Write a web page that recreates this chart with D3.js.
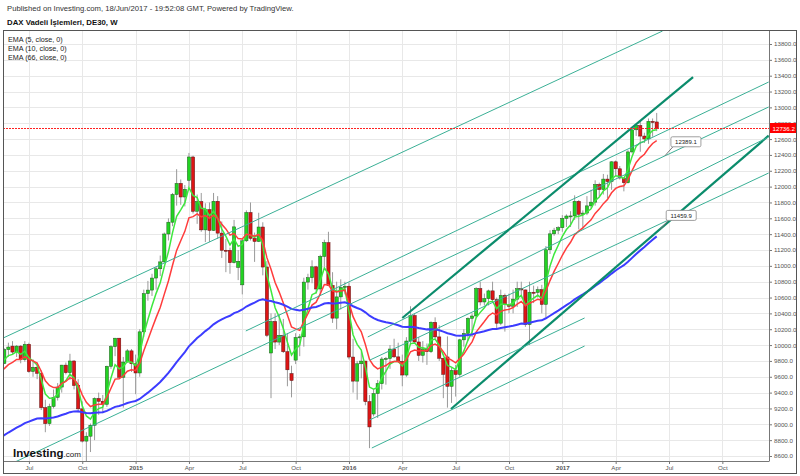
<!DOCTYPE html>
<html>
<head>
<meta charset="utf-8">
<script src="https://cdn.jsdelivr.net/npm/d3@7"></script>
<style>
  body { margin: 0; background: #fff; }
  svg { display: block; font-family: "Liberation Sans", Arial, sans-serif; }
</style>
</head>
<body>
<svg id="chart" width="800" height="476"></svg>
<script>
// weekly bars (monday of each week)
var weeks = [
  "2014-05-19","2014-05-26","2014-06-02","2014-06-09","2014-06-16","2014-06-23","2014-06-30","2014-07-07","2014-07-14","2014-07-21",
  "2014-07-28","2014-08-04","2014-08-11","2014-08-18","2014-08-25","2014-09-01","2014-09-08","2014-09-15","2014-09-22","2014-09-29",
  "2014-10-06","2014-10-13","2014-10-20","2014-10-27","2014-11-03","2014-11-10","2014-11-17","2014-11-24","2014-12-01","2014-12-08",
  "2014-12-15","2014-12-22","2014-12-29","2015-01-05","2015-01-12","2015-01-19","2015-01-26","2015-02-02","2015-02-09","2015-02-16",
  "2015-02-23","2015-03-02","2015-03-09","2015-03-16","2015-03-23","2015-03-30","2015-04-06","2015-04-13","2015-04-20","2015-04-27",
  "2015-05-04","2015-05-11","2015-05-18","2015-05-25","2015-06-01","2015-06-08","2015-06-15","2015-06-22","2015-06-29","2015-07-06",
  "2015-07-13","2015-07-20","2015-07-27","2015-08-03","2015-08-10","2015-08-17","2015-08-24","2015-08-31","2015-09-07","2015-09-14",
  "2015-09-21","2015-09-28","2015-10-05","2015-10-12","2015-10-19","2015-10-26","2015-11-02","2015-11-09","2015-11-16","2015-11-23",
  "2015-11-30","2015-12-07","2015-12-14","2015-12-21","2015-12-28","2016-01-04","2016-01-11","2016-01-18","2016-01-25","2016-02-01",
  "2016-02-08","2016-02-15","2016-02-22","2016-02-29","2016-03-07","2016-03-14","2016-03-21","2016-03-28","2016-04-04","2016-04-11",
  "2016-04-18","2016-04-25","2016-05-02","2016-05-09","2016-05-16","2016-05-23","2016-05-30","2016-06-06","2016-06-13","2016-06-20",
  "2016-06-27","2016-07-04","2016-07-11","2016-07-18","2016-07-25","2016-08-01","2016-08-08","2016-08-15","2016-08-22","2016-08-29",
  "2016-09-05","2016-09-12","2016-09-19","2016-09-26","2016-10-03","2016-10-10","2016-10-17","2016-10-24","2016-10-31","2016-11-07",
  "2016-11-14","2016-11-21","2016-11-28","2016-12-05","2016-12-12","2016-12-19","2016-12-26","2017-01-02","2017-01-09","2017-01-16",
  "2017-01-23","2017-01-30","2017-02-06","2017-02-13","2017-02-20","2017-02-27","2017-03-06","2017-03-13","2017-03-20","2017-03-27",
  "2017-04-03","2017-04-10","2017-04-17","2017-04-24","2017-05-01","2017-05-08","2017-05-15","2017-05-22","2017-05-29","2017-06-05",
  "2017-06-12"
];

var opens = [
  9630,9768,9943,9987,9912,9987,9815,10009,9666,9720,
  9644,9210,9009,9225,9339,9470,9747,9651,9799,9490,
  9195,8788,8850,8988,9326,9291,9252,9732,9980,10087,
  9594,9786,9927,9764,9648,10167,10649,10694,10846,10963,
  11050,11402,11551,11901,12040,11869,12080,12374,11689,11811,
  11454,11709,11447,11815,11413,11197,11196,11040,10980,10760,
  11316,11673,11347,11308,11490,10985,9900,10298,10038,10123,
  9916,9640,9810,10096,10104,10795,10850,10988,10708,11119,
  11293,10752,10340,10608,10727,10743,9849,9545,9764,9798,
  9286,9130,9388,9513,9824,9831,9950,9851,9794,9622,
  10051,10373,10039,9870,9952,9916,10287,10103,9834,9850,
  9480,9680,9629,10066,10147,10337,10367,10713,10544,10587,
  10684,10573,10276,10627,10511,10490,10580,10711,10696,10259,
  10667,10664,10699,10513,11203,11404,11450,11481,11599,11629,
  11630,11814,11651,11666,11757,11804,12027,11963,12095,12064,
  12313,12225,12109,12049,12438,12717,12770,12638,12602,12823,
  12816
];

var highs = [
  9790,9960,10030,10050,10000,10000,10050,10030,9820,9780,
  9680,9310,9260,9440,9520,9750,9780,9890,9810,9570,
  9290,8900,9010,9340,9400,9370,9740,10000,10090,10090,
  9850,9950,9950,9880,10200,10700,10810,10900,10990,11130,
  11420,11600,11920,12220,12090,12020,12425,12390,11900,11920,
  11790,11800,11920,11880,11560,11340,11230,11580,11200,11340,
  11700,11800,11420,11670,11550,11060,10400,10400,10390,10330,
  10150,9740,10150,10140,10850,10900,11070,11000,11140,11330,
  11430,10920,10800,10830,10800,10790,10080,9800,9920,9800,
  9370,9440,9560,9850,9850,10000,10080,10030,9880,10100,
  10490,10400,10100,10050,10020,10300,10350,10250,9840,10110,
  9720,9750,10080,10200,10350,10400,10730,10800,10650,10700,
  10800,10600,10700,10650,10650,10700,10800,10800,10700,10800,
  10750,10740,10760,11250,11450,11480,11500,11640,11650,11690,
  11890,11830,11700,11880,11960,12080,12050,12160,12150,12320,
  12330,12260,12110,12460,12720,12780,12840,12680,12860,12860,
  12930
];

var lows = [
  9590,9760,9850,9880,9850,9770,9790,9650,9600,9570,
  9180,8900,8980,9200,9300,9400,9630,9560,9440,9150,
  8770,8355,8650,8800,9120,9140,9220,9700,9860,9580,
  9210,9780,9660,9380,9600,10100,10560,10620,10700,10870,
  11040,11320,11500,11760,11770,11750,12000,11660,11530,11430,
  11300,11300,11440,11340,11100,10920,10900,11030,10820,10640,
  11300,11320,11050,11300,10880,10100,9330,9950,10000,9900,
  9480,9340,9760,9860,9980,10700,10780,10650,10630,10990,
  10750,10280,10200,10450,10640,9820,9400,9310,9580,9240,
  8699,9100,9080,9440,9500,9700,9840,9780,9480,9600,
  10000,10020,9800,9780,9750,9900,10080,9800,9330,9210,
  9270,9350,9600,9980,10050,10100,10350,10500,10500,10500,
  10550,10200,10250,10170,10400,10400,10480,10600,10230,10000,
  10530,10600,10400,10350,11150,11380,11400,11430,11490,11490,
  11580,11460,11460,11640,11730,11760,11880,11900,11850,11960,
  12140,12090,11940,12040,12420,12640,12440,12550,12540,12630,
  12700
];

var closes = [
  9768,9943,9975,9912,9987,9815,10009,9666,9720,9644,
  9210,9009,9225,9339,9470,9747,9651,9799,9490,9195,
  8788,8850,8988,9326,9291,9252,9732,9980,10087,9594,
  9786,9927,9764,9648,10167,10649,10694,10846,10963,11050,
  11402,11551,11901,12040,11869,11967,12374,11689,11811,11454,
  11709,11447,11815,11413,11197,11196,11040,11492,11058,11316,
  11673,11347,11308,11490,10985,10124,10298,10038,10123,9916,
  9688,9553,10096,10104,10795,10850,10988,10708,11119,11293,
  10752,10340,10608,10727,10743,9849,9545,9764,9798,9286,
  8967,9388,9513,9824,9831,9950,9851,9794,9622,10051,
  10373,10039,9870,9952,9916,10287,10103,9834,9631,9480,
  9680,9629,10066,10147,10337,10367,10713,10544,10587,10684,
  10573,10276,10627,10511,10490,10580,10711,10696,10259,10667,
  10664,10699,10513,11203,11404,11450,11481,11599,11629,11630,
  11814,11651,11666,11757,11804,12027,11963,12095,12064,12313,
  12225,12109,12049,12438,12717,12770,12638,12602,12823,12816,
  12736.2
];

// moving averages: periods, value at the first bar and legend names
var emaPeriods = [5, 10, 66];
var emaStart = [9750, 9650, 8830];
var emaNames = ["EMA (5, close, 0)", "EMA (10, close, 0)", "EMA (66, close, 0)"];
var emaColors = ["#3ee83e", "#ff3c3c", "#3c3cff"];

// axis ticks
var tickDates = ["2014-07-07","2014-10-06","2015-01-05","2015-04-06","2015-07-06","2015-10-05","2016-01-04",
                 "2016-04-04","2016-07-04","2016-10-03","2017-01-02","2017-04-03","2017-07-03","2017-10-02"];
var tickLabels = ["Jul","Oct","2015","Apr","Jul","Oct","2016","Apr","Jul","Oct","2017","Apr","Jul","Oct"];
var priceTicks = [8600,8800,9000,9200,9400,9600,9800,10000,10200,10400,10600,10800,11000,11200,
                  11400,11600,11800,12000,12200,12400,12600,12800,13000,13200,13400,13600,13800];

// drawn trend lines [date, price] -> [date, price]
var lineFrom = [
  ["2014-05-24", 10089], ["2015-07-12", 10178], ["2014-05-19", 8436],
  ["2016-04-04", 10342], ["2016-06-26", 9193],
  ["2016-02-05", 10102], ["2016-02-09", 9812], ["2016-02-08", 9054], ["2016-02-12", 8701]
];
var lineTo = [
  ["2017-06-22", 13964], ["2017-12-20", 13320], ["2017-12-20", 13005],
  ["2017-08-13", 13383], ["2017-12-20", 12643],
  ["2017-12-20", 12626], ["2017-12-20", 12172], ["2017-02-09", 10342], ["2017-02-09", 9988]
];
var lineThick = [false, false, false, true, true, false, false, false, false];

// price callouts on the lines
var calloutDates = ["2017-06-26", "2017-06-18"];
var calloutPrices = [12389.1, 11459.9];

var lastPrice = 12736.2;

var parse = d3.utcParse("%Y-%m-%d");

var plot = { left: 3, right: 769, top: 30, bottom: 461 };

var svg = d3.select('#chart');

var x = d3.scaleUtc()
  .domain([parse("2014-05-26"), parse("2017-06-12")])
  .range([4.3, 656.7]);

var y = d3.scaleLinear()
  .domain([8600, 13800])
  .range([456, 44]);

var bars = weeks.map(function(w, i) {
  return { date: parse(w), o: opens[i], h: highs[i], l: lows[i], c: closes[i] };
});

// exponential moving averages of the closes
var emas = emaPeriods.map(function(p, k) {
  var a = 2 / (p + 1);
  var out = [];
  var prev = emaStart[k];
  bars.forEach(function(b, i) {
    var v = i === 0 ? prev : a * b.c + (1 - a) * prev;
    out.push({ date: b.date, v: v });
    prev = v;
  });
  return out;
});

svg.append('defs').append('clipPath')
    .attr('id', 'plotclip')
  .append('rect')
    .attr('x', plot.left)
    .attr('y', plot.top)
    .attr('width', plot.right - plot.left)
    .attr('height', plot.bottom - plot.top);

/* GRID */
var grid = svg.append('g');
grid.selectAll('line.h')
  .data(priceTicks)
  .enter()
  .append('line')
    .attr('x1', plot.left)
    .attr('x2', plot.right)
    .attr('y1', d => Math.round(y(d)) + 0.5)
    .attr('y2', d => Math.round(y(d)) + 0.5)
    .style('stroke', '#e8e8e8');
grid.selectAll('line.v')
  .data(tickDates)
  .enter()
  .append('line')
    .attr('x1', d => Math.round(x(parse(d))) + 0.5)
    .attr('x2', d => Math.round(x(parse(d))) + 0.5)
    .attr('y1', plot.top)
    .attr('y2', plot.bottom)
    .style('stroke', '#e8e8e8');

var inner = svg.append('g').attr('clip-path', 'url(#plotclip)');

/* CANDLES */
var candle = inner.append('g')
  .selectAll('g')
  .data(bars)
  .enter()
  .append('g');

candle.append('line')
    .attr('x1', d => x(d.date))
    .attr('x2', d => x(d.date))
    .attr('y1', d => y(d.h))
    .attr('y2', d => y(d.l))
    .style('stroke', '#9a9a9a')
    .style('stroke-width', 1);

candle.append('rect')
    .attr('x', d => x(d.date) - 1.6)
    .attr('width', 3.2)
    .attr('y', d => y(Math.max(d.o, d.c)))
    .attr('height', d => Math.max(1, Math.abs(y(d.o) - y(d.c))))
    .style('fill', d => d.c >= d.o ? '#22d322' : '#dd1515')
    .style('stroke', d => d.c >= d.o ? '#1f5a1f' : '#5a1010')
    .style('stroke-width', 0.5);

/* EMA LINES */
var emaLine = d3.line()
  .x(d => x(d.date))
  .y(d => y(d.v));

inner.selectAll('path.ema')
  .data(emas)
  .enter()
  .append('path')
    .attr('d', emaLine)
    .style('fill', 'none')
    .style('stroke', (d, i) => emaColors[i])
    .style('stroke-width', (d, i) => i === 2 ? 2 : 1.5);

/* TREND LINES */
inner.selectAll('line.trend')
  .data(lineFrom)
  .enter()
  .append('line')
    .attr('x1', d => x(parse(d[0])))
    .attr('y1', d => y(d[1]))
    .attr('x2', (d, i) => x(parse(lineTo[i][0])))
    .attr('y2', (d, i) => y(lineTo[i][1]))
    .style('stroke', (d, i) => lineThick[i] ? '#0b8c6c' : '#3bb096')
    .style('stroke-width', (d, i) => lineThick[i] ? 2.2 : 1);

// last price dotted line
var lastY = Math.round(y(lastPrice)) + 0.5;
inner.append('line')
    .attr('x1', plot.left)
    .attr('x2', plot.right)
    .attr('y1', lastY)
    .attr('y2', lastY)
    .style('stroke', '#ff2020')
    .style('stroke-width', 1)
    .style('stroke-dasharray', '2,1');

/* CALLOUTS */
var callout = svg.append('g')
  .selectAll('g')
  .data(calloutPrices)
  .enter()
  .append('g')
    .attr('transform', (d, i) => 'translate(' + x(parse(calloutDates[i])) + ',' + y(d) + ')');

callout.append('line')
    .attr('x1', 0).attr('y1', 0)
    .attr('x2', 8).attr('y2', -9)
    .style('stroke', '#777');
callout.append('rect')
    .attr('x', 6).attr('y', -19)
    .attr('width', 30).attr('height', 10)
    .attr('rx', 1.5)
    .style('fill', '#fff')
    .style('stroke', '#888')
    .style('stroke-width', 0.8);
callout.append('text')
    .attr('x', 21).attr('y', -11.8)
    .attr('text-anchor', 'middle')
    .style('font-size', '6px')
    .style('fill', '#222')
    .text(d => d3.format('.1f')(d));

/* AXES */
var yAxis = d3.axisRight(y)
  .tickValues(priceTicks)
  .tickFormat(d3.format('.1f'))
  .tickSize(3)
  .tickPadding(2);

var gy = svg.append('g')
  .attr('transform', 'translate(' + plot.right + ',0)')
  .call(yAxis);
gy.select('.domain').remove();
gy.selectAll('line').style('stroke', '#777');
gy.selectAll('text').style('font-size', '6.2px').style('fill', '#555').style('font-family', 'Liberation Sans, Arial');

svg.append('line')
    .attr('x1', plot.right + 0.5).attr('x2', plot.right + 0.5)
    .attr('y1', plot.top).attr('y2', plot.bottom)
    .style('stroke', '#777');

var xAxis = d3.axisBottom(x)
  .tickValues(tickDates.map(parse))
  .tickFormat((d, i) => tickLabels[i])
  .tickSize(3)
  .tickPadding(1.5);

var gx = svg.append('g')
  .attr('transform', 'translate(0,' + plot.bottom + ')')
  .call(xAxis);
gx.select('.domain').remove();
gx.selectAll('line').style('stroke', '#777');
gx.selectAll('text')
    .style('font-size', '6.2px')
    .style('fill', '#555')
    .style('font-family', 'Liberation Sans, Arial')
    .style('font-weight', (d, i) => /^\d/.test(tickLabels[i]) ? 'bold' : 'normal');

svg.append('line')
    .attr('x1', plot.left).attr('x2', plot.right + 0.5)
    .attr('y1', plot.bottom + 0.5).attr('y2', plot.bottom + 0.5)
    .style('stroke', '#777');

// last price tag
svg.append('rect')
    .attr('x', plot.right + 1)
    .attr('y', lastY - 5.5)
    .attr('width', 27)
    .attr('height', 10)
    .style('fill', '#ff0000');
svg.append('text')
    .attr('x', plot.right + 3.5)
    .attr('y', lastY + 2)
    .style('font-size', '6.2px')
    .style('fill', '#fff')
    .text(d3.format('.1f')(lastPrice));

// outer frame
svg.append('rect')
    .attr('x', 3.5).attr('y', 30.5)
    .attr('width', 793).attr('height', 443)
    .style('fill', 'none')
    .style('stroke', '#555');

/* TITLES AND LEGEND */
svg.append('text')
    .attr('x', 7).attr('y', 11)
    .style('font-size', '7.7px')
    .style('fill', '#333')
    .text('Published on Investing.com, 18/Jun/2017 - 19:52:08 GMT, Powered by TradingView.');

svg.append('text')
    .attr('x', 7).attr('y', 25)
    .style('font-size', '7.8px')
    .style('font-weight', 'bold')
    .style('fill', '#111')
    .text('DAX Vadeli İşlemleri, DE30, W');

svg.selectAll('text.legend')
  .data(emaNames)
  .enter()
  .append('text')
    .attr('x', 8)
    .attr('y', (d, i) => 42 + i * 9)
    .style('font-size', '7.2px')
    .style('fill', '#222')
    .text(d => d);

// investing.com logo
var logo = svg.append('text')
    .attr('x', 13).attr('y', 457);
logo.append('tspan')
    .style('font-size', '11.5px')
    .style('font-weight', 'bold')
    .style('fill', '#111')
    .text('Investing');
logo.append('tspan')
    .style('font-size', '8px')
    .style('fill', '#222')
    .text('.com');
</script>
</body>
</html>
